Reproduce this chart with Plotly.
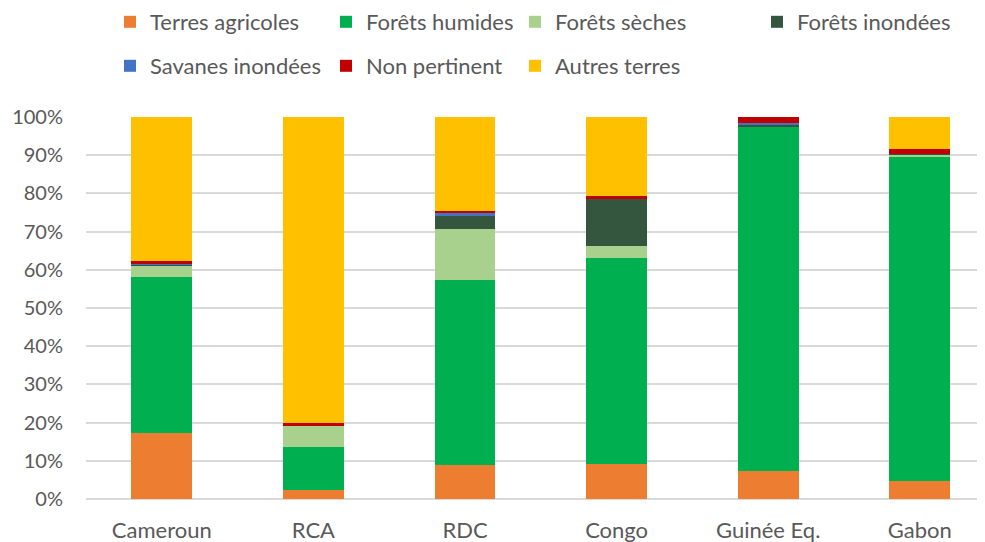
import plotly.graph_objects as go

categories = ["Cameroun", "RCA", "RDC", "Congo", "Guinée Eq.", "Gabon"]

terres_agricoles = [17.4, 2.4, 9.0, 9.1, 7.4, 4.8]
forets_humides = [40.8, 11.2, 48.3, 54.1, 90.2, 84.9]
forets_seches = [2.8, 5.6, 13.5, 3.0, 0.0, 0.4]
forets_inondees = [0.3, 0.0, 3.5, 12.3, 0.5, 0.3]
savanes_inondees = [0.1, 0.0, 0.5, 0.0, 0.2, 0.0]
non_pertinent = [1.0, 0.6, 0.7, 0.8, 1.7, 1.3]
autres_terres = [37.6, 80.2, 24.5, 20.7, 0.0, 8.3]

series_names = ["Terres agricoles", "Forêts humides", "Forêts sèches", "Forêts inondées",
                "Savanes inondées", "Non pertinent", "Autres terres"]
series_values = [terres_agricoles, forets_humides, forets_seches, forets_inondees,
                 savanes_inondees, non_pertinent, autres_terres]
colors = ["#ED7D31", "#00B050", "#A9D18E", "#34553E", "#4472C4", "#C00000", "#FFC000"]

FONT = "Lato, 'Open Sans', sans-serif"
TXT = "#595959"

# page body has an 8px margin: figure is placed at (8, 8) in the window
W, H = 977, 534
L, R, T, B = 78, 0, 109, 43
plot_w = W - L - R
plot_h = H - T - B

# legend layout (pixel positions of legend boxes, figure coords)
leg_px = [(102, 14), (318, 14), (507, 14), (749, 14), (102, 58), (318, 58), (507, 58)]

fig = go.Figure()
layout_legends = {}
for i, (name, vals, col) in enumerate(zip(series_names, series_values, colors)):
    key = "legend" if i == 0 else f"legend{i+1}"
    fig.add_trace(go.Bar(
        x=categories, y=vals, name=name,
        marker=dict(color=col, line=dict(width=0)),
        legend=key,
    ))
    px, py = leg_px[i]
    layout_legends[key] = dict(
        x=(px - L) / plot_w, y=(H - B - py) / plot_h,
        xanchor="left", yanchor="middle",
        bgcolor="rgba(0,0,0,0)",
        font=dict(family=FONT, size=22, color=TXT),
        itemclick=False, itemdoubleclick=False,
    )

fig.update_layout(
    width=W, height=H,
    margin=dict(l=L, r=R, t=T, b=B, pad=0, autoexpand=False),
    barmode="stack",
    bargap=0.6,
    plot_bgcolor="white",
    paper_bgcolor="white",
    showlegend=True,
    font=dict(family=FONT, size=20, color=TXT),
    xaxis=dict(
        range=[-0.5, 5.43],
        showgrid=False, showline=False, zeroline=False,
        ticks="", ticklabelstandoff=16,
        tickfont=dict(family=FONT, size=22, color=TXT),
    ),
    yaxis=dict(
        range=[0, 100], dtick=10, tick0=0,
        ticksuffix="%",
        showgrid=True, gridcolor="#D9D9D9", gridwidth=1.5,
        zeroline=True, zerolinecolor="#D9D9D9", zerolinewidth=1.5,
        showline=False, ticks="", ticklabelstandoff=22,
        tickfont=dict(family=FONT, size=20, color=TXT),
    ),
    **layout_legends,
)

fig.write_html("out.html")
